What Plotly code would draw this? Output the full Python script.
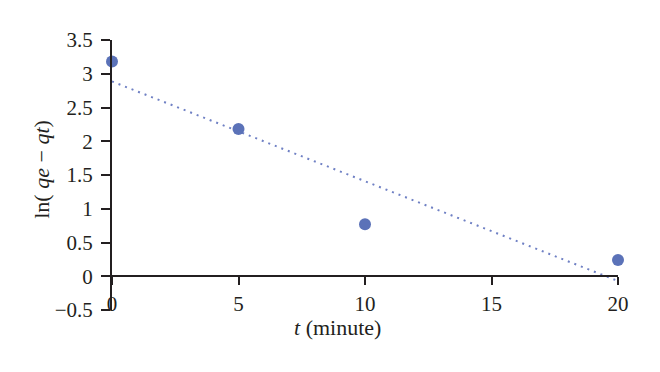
import numpy as np
import plotly.graph_objects as go

t_minute = [0, 5, 10, 20]
ln_qe_qt = [3.18, 2.18, 0.77, 0.24]
x_ticks = [0, 5, 10, 15, 20]
y_ticks = [-0.5, 0, 0.5, 1, 1.5, 2, 2.5, 3, 3.5]

slope, intercept = np.polyfit(t_minute, ln_qe_qt, 1)
fit_x = [0, 20]
fit_y = [intercept + slope * v for v in fit_x]

fig = go.Figure()
fig.add_trace(go.Scatter(x=fit_x, y=fit_y, mode="lines",
                         line=dict(color="#6f80c4", width=2, dash="2px,5px"),
                         hoverinfo="skip", showlegend=False))
fig.add_trace(go.Scatter(x=t_minute, y=ln_qe_qt, mode="markers",
                         marker=dict(color="#5b72b8", size=12),
                         showlegend=False, cliponaxis=False))

fam = "Liberation Serif, DejaVu Serif, serif"
tick_font = dict(family=fam, size=21, color="#231f20")
title_font = dict(family=fam, size=22, color="#231f20")
fig.update_layout(
    width=660, height=372,
    margin=dict(l=104, r=50, t=32, b=70),
    paper_bgcolor="white", plot_bgcolor="white",
    font=tick_font,
    xaxis=dict(range=[0, 20], tickvals=x_ticks, showgrid=False, zeroline=False,
               showline=True, linecolor="#231f20", linewidth=2,
               ticks="outside", ticklen=8, tickwidth=2, tickcolor="#231f20",
               anchor="free", position=0.125, automargin=False,
               ticklabelstandoff=1, tickfont=tick_font),
    yaxis=dict(range=[-0.5, 3.5], tickvals=y_ticks, showgrid=False, zeroline=False,
               showline=True, linecolor="#231f20", linewidth=2,
               ticks="outside", ticklen=9, tickwidth=2, tickcolor="#231f20",
               automargin=False, ticklabelstandoff=4, tickfont=tick_font),
    annotations=[
        dict(text="<i>t</i> (minute)", xref="paper", yref="paper",
             x=0.4466, y=-0.066, showarrow=False, font=title_font,
             xanchor="center", yanchor="middle"),
        dict(text="ln( <i>qe</i> − <i>qt</i>)", xref="paper", yref="paper",
             x=-0.140, y=0.52, showarrow=False, font=title_font, textangle=-90,
             xanchor="center", yanchor="middle"),
    ],
)
fig.write_html("out.html")
